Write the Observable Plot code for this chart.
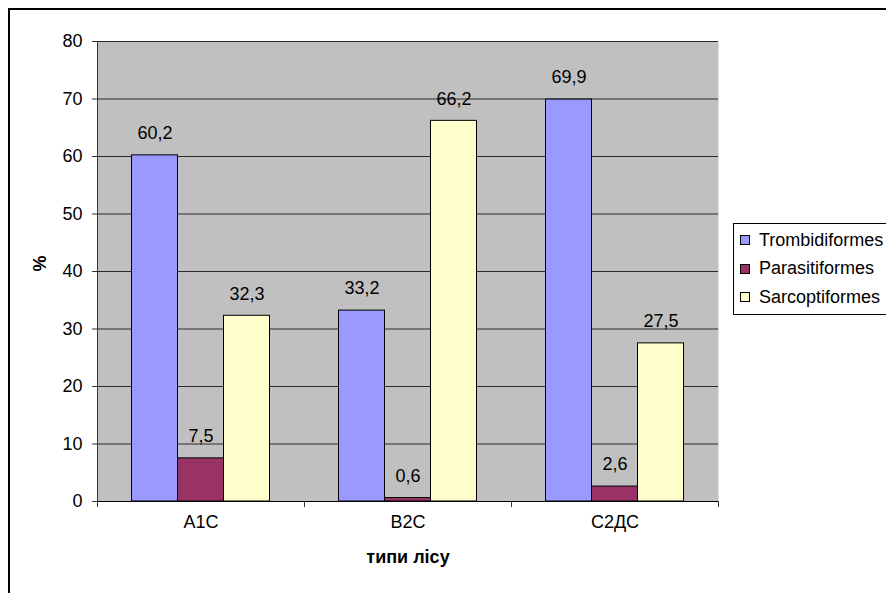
<!DOCTYPE html>
<html>
<head>
<meta charset="utf-8">
<script src="https://cdn.jsdelivr.net/npm/d3@7"></script>
<script src="https://cdn.jsdelivr.net/npm/@observablehq/plot@0.6"></script>
<style>
  html, body { margin: 0; padding: 0; background: #fff; overflow: hidden; }
  #wrap { position: relative; width: 886px; height: 593px; font-family: Arial, "Liberation Sans", sans-serif; }
  #border { position: absolute; left: 8px; top: 8px; width: 920px; height: 620px; border: 2px solid #000; pointer-events: none; }
  #legend { position: absolute; left: 733px; top: 223px; width: 170px; height: 92px; border: 1px solid #000; background: #fff;
            font-size: 18px; color: #000; box-sizing: border-box; padding-top: 2px; }
  .item { display: flex; align-items: center; height: 28.5px; }
  .sw { width: 8px; height: 8px; border: 1px solid #000; margin-left: 6px; margin-right: 9px; }
</style>
</head>
<body>
<div id="wrap"><div id="chart"></div><div id="legend"></div><div id="border"></div></div>
<script>
// Forest types and mite orders, share of each order (%)
const forestTypes = ["A1C", "B2C", "C2ДС"];
const orders = ["Trombidiformes", "Parasitiformes", "Sarcoptiformes"];
const trombidiformes = [60.2, 33.2, 69.9];
const parasitiformes = [7.5, 0.6, 2.6];
const sarcoptiformes = [32.3, 66.2, 27.5];
const orderColors = ["#9999FF", "#993366", "#FFFFCC"];
const yTicks = [0, 10, 20, 30, 40, 50, 60, 70, 80];

const seriesValues = [trombidiformes, parasitiformes, sarcoptiformes];
// Each forest type spans one unit on x; the three bars fill 2/3 of it, centred.
const barW = 1 / 4.5;
const bars = [];
forestTypes.forEach((t, i) => {
  orders.forEach((o, j) => {
    const x1 = i + 0.5 + (j - 1.5) * barW;
    bars.push({type: t, order: o, value: seriesValues[j][i], x1, x2: x1 + barW, xc: x1 + barW / 2});
  });
});
// Boundaries between forest-type groups get a small tick below the axis
const groupEdges = d3.range(forestTypes.length + 1);

const chart = Plot.plot({
  width: 886,
  height: 593,
  marginLeft: 97,
  marginRight: 168,
  marginTop: 41,
  marginBottom: 92,
  style: {fontFamily: "Arial, 'Liberation Sans', sans-serif", fontSize: "18px", color: "#000", background: "transparent"},
  x: {domain: [0, forestTypes.length]},
  y: {domain: [0, 80]},
  color: {domain: orders, range: orderColors},
  marks: [
    Plot.frame({fill: "#C0C0C0", stroke: "none"}),
    Plot.ruleY(yTicks, {stroke: "#2a2a2a", strokeWidth: 1}),
    Plot.rect(bars, {x1: "x1", x2: "x2", y1: 0, y2: "value", fill: "order", stroke: "#000", strokeWidth: 1}),
    Plot.axisY({ticks: yTicks, tickSize: 5, tickPadding: 10, fontSize: 18, label: null, stroke: "#333"}),
    Plot.axisX({ticks: groupEdges, tickSize: 6, tickFormat: () => "", label: null, stroke: "#333"}),
    Plot.ruleX([0], {stroke: "#333"}),
    Plot.ruleY([0], {stroke: "#000"}),
    Plot.text(bars, {x: "xc", y: "value", text: d => String(d.value).replace(".", ","), dy: -22, fontSize: 18, fill: "#000"}),
    Plot.text(forestTypes, {x: (d, i) => i + 0.5, text: d => d, frameAnchor: "bottom", dy: 26, fontSize: 18, fill: "#000"}),
    Plot.text(["%"], {frameAnchor: "left", dx: -57, rotate: -90, fontWeight: "bold", fontSize: 18, fill: "#000"}),
    Plot.text(["типи лісу"], {frameAnchor: "bottom", dy: 61, fontWeight: "bold", fontSize: 18, fill: "#000"})
  ]
});
document.getElementById("chart").appendChild(chart);

const legend = d3.select("#legend");
orders.forEach((o, j) => {
  const row = legend.append("div").attr("class", "item");
  row.append("div").attr("class", "sw").style("background", orderColors[j]);
  row.append("span").text(o);
});
</script>
</body>
</html>
